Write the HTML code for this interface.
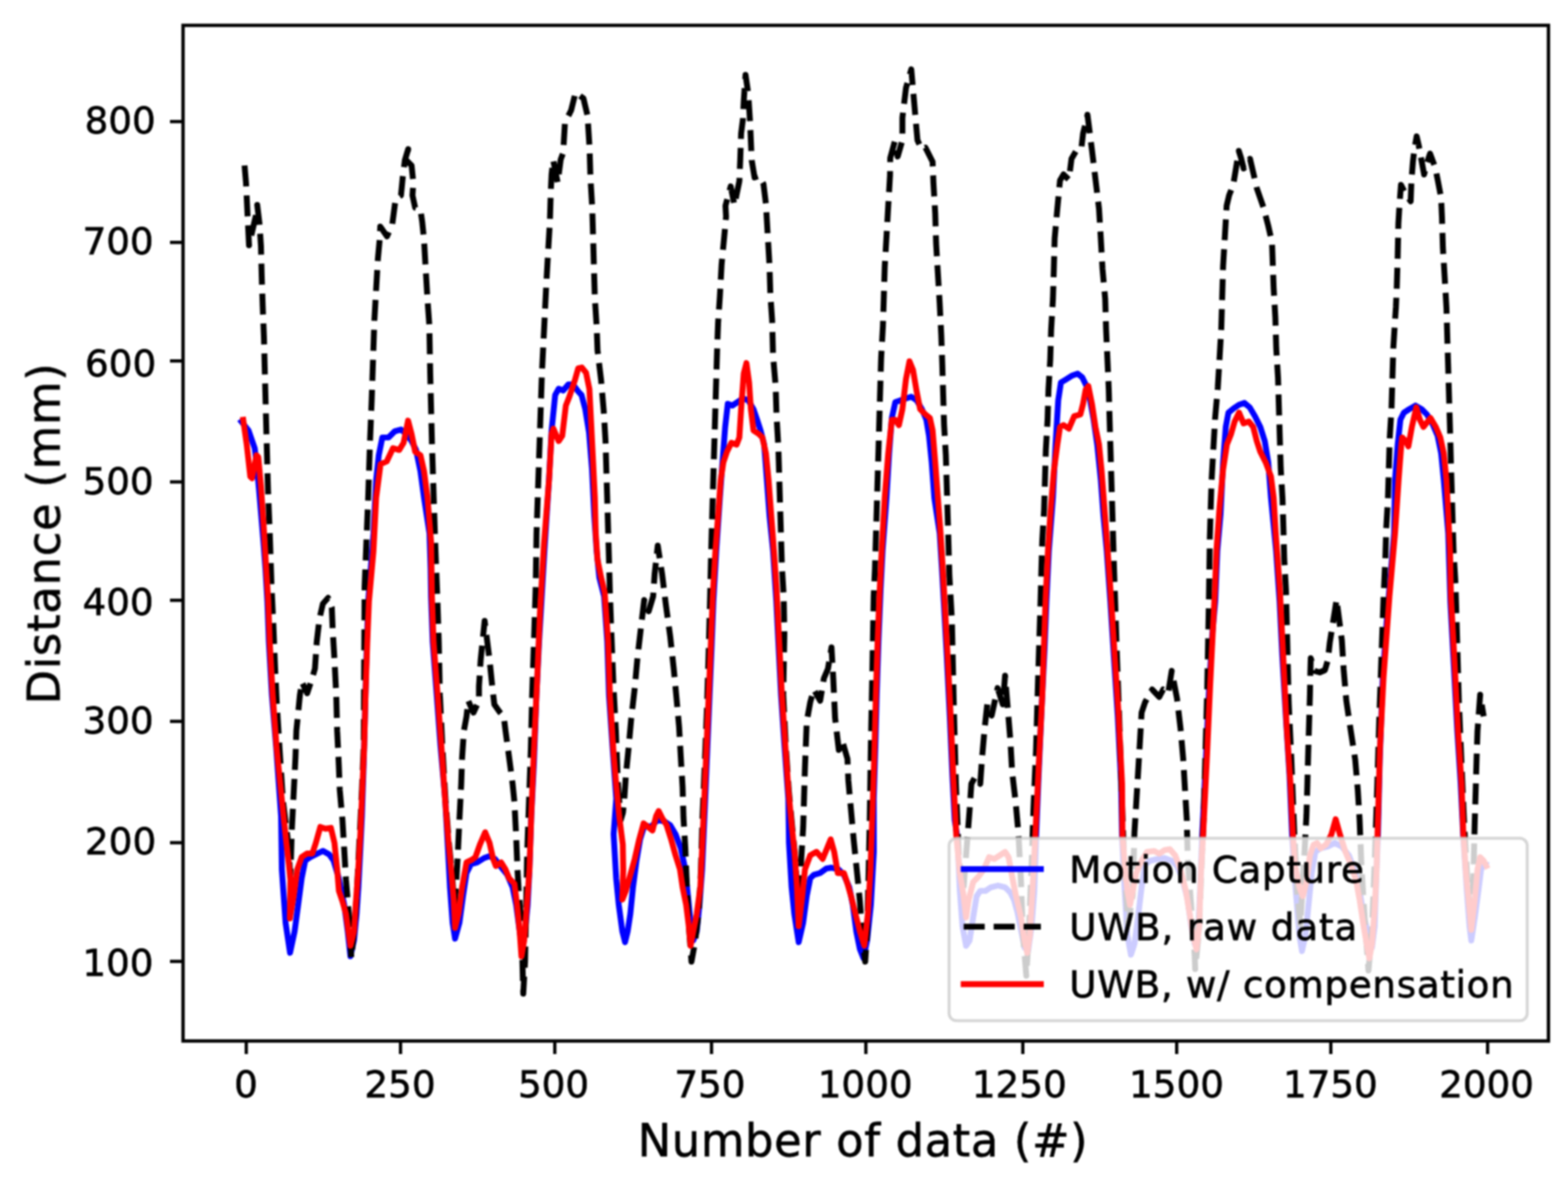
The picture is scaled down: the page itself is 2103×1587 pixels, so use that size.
<!DOCTYPE html>
<html><head><meta charset="utf-8"><title>Distance plot</title>
<style>html,body{margin:0;padding:0;background:#fff;overflow:hidden}svg{display:block}</style>
</head><body>
<svg xmlns="http://www.w3.org/2000/svg" width="2103" height="1587" viewBox="0 0 2103 1587">
<rect x="0" y="0" width="2103" height="1587" fill="#fff"/>
<defs><filter id="soft" color-interpolation-filters="sRGB" filterUnits="userSpaceOnUse" x="0" y="0" width="2103" height="1587"><feGaussianBlur stdDeviation="0.8"/></filter></defs>
<g filter="url(#soft)">
<defs><clipPath id="ax"><rect x="245.5" y="34.0" width="1831.3" height="1362.5"/></clipPath></defs>
<g clip-path="url(#ax)" fill="none" stroke-linejoin="round">
<polyline points="323.8,565.5 333.3,577.4 341.6,601.2 344.0,620.2 347.3,655.9 350.3,691.5 353.3,727.2 356.0,762.9 358.6,807.0 360.6,861.0 364.6,932.0 370.5,1004.0 377.0,1095.1 378.0,1166.4 383.0,1237.8 389.0,1278.2 395.1,1249.6 399.9,1214.0 404.6,1178.3 409.4,1154.5 416.5,1149.8 426.0,1145.0 433.1,1141.5 441.5,1146.2 447.4,1154.5 454.5,1178.3 461.7,1214.0 466.4,1249.6 470.0,1282.9 474.8,1261.5 478.3,1225.9 480.7,1190.2 483.1,1142.7 485.4,1095.1 487.8,1023.8 489.5,960.0 491.5,880.0 493.8,807.0 500.9,715.3 504.5,644.0 508.0,610.7 512.8,586.9 521.1,586.9 529.4,578.6 537.8,576.2 544.9,582.2 552.0,591.7 558.0,603.6 563.9,632.1 568.7,667.8 576.0,715.3 577.5,762.9 578.1,800.0 580.3,861.0 585.7,932.0 590.7,1000.0 597.0,1071.3 601.0,1142.7 603.5,1190.2 607.0,1237.8 610.3,1259.2 616.2,1237.8 621.0,1202.1 625.7,1171.2 631.7,1159.3 640.0,1156.9 649.5,1151.0 656.6,1148.6 663.8,1152.2 670.9,1161.7 680.4,1173.6 687.5,1190.2 692.3,1214.0 697.0,1249.6 700.6,1273.4 704.2,1249.6 707.7,1214.0 710.1,1166.4 712.5,1095.1 716.1,1023.8 719.5,932.0 723.0,861.0 726.2,807.0 730.2,739.1 736.3,644.0 739.8,577.4 744.6,529.9 749.3,521.5 755.3,523.9 762.4,515.6 768.4,515.6 775.5,525.1 780.0,530.0 785.0,549.0 790.0,580.0 794.0,630.0 797.0,691.5 800.2,739.1 803.8,774.7 810.2,800.0 814.5,861.3 816.8,932.7 821.5,1002.0 826.5,1071.3 823.0,1118.9 826.4,1178.3 829.9,1214.0 834.7,1249.6 838.3,1263.9 841.8,1249.6 845.4,1225.9 849.0,1190.2 853.7,1154.5 858.5,1126.0 864.4,1107.0 872.7,1109.4 882.2,1099.9 891.7,1102.2 898.9,1107.0 906.0,1118.9 913.1,1137.9 919.1,1166.4 922.7,1202.1 926.2,1237.8 929.8,1261.5 934.5,1249.6 938.1,1214.0 941.7,1166.4 943.8,1118.9 945.9,1071.3 948.9,1000.0 951.7,932.0 954.7,861.0 956.8,807.0 960.7,739.1 965.5,667.8 969.0,620.2 972.6,572.7 976.1,541.7 982.1,544.1 989.2,539.4 996.4,534.6 1003.5,537.0 1010.6,548.9 1015.4,563.1 1020.1,577.4 1024.9,596.4 1028.5,644.0 1032.0,691.5 1036.8,739.1 1041.2,807.0 1043.9,861.0 1047.5,932.0 1052.1,1000.0 1057.3,1071.3 1058.2,1130.8 1061.7,1190.2 1065.3,1225.9 1071.2,1263.9 1077.2,1237.8 1082.0,1202.1 1086.7,1178.3 1091.5,1173.6 1099.8,1171.2 1108.1,1165.2 1115.2,1164.0 1124.7,1166.4 1131.9,1173.6 1139.0,1190.2 1143.8,1214.0 1148.5,1249.6 1153.3,1273.4 1158.0,1285.3 1163.0,1261.5 1168.0,1214.0 1172.0,1142.7 1171.9,1071.3 1174.1,1000.0 1175.9,932.0 1178.2,861.0 1181.1,790.0 1183.7,739.1 1189.0,667.8 1192.5,608.3 1196.1,560.8 1200.8,539.4 1208.0,537.0 1215.1,534.6 1222.2,532.2 1229.4,537.0 1236.5,548.9 1242.4,563.1 1246.0,584.5 1249.6,620.2 1253.1,667.8 1260.3,715.3 1263.3,762.9 1265.8,807.0 1269.8,880.0 1273.8,960.0 1277.3,1040.0 1280.4,1100.0 1284.1,1123.8 1287.3,1195.1 1290.9,1242.7 1295.7,1268.8 1300.4,1261.7 1305.2,1230.8 1309.9,1202.2 1314.7,1195.1 1321.8,1195.1 1329.0,1190.3 1338.5,1188.0 1348.0,1190.3 1355.1,1197.5 1359.9,1207.0 1364.6,1223.6 1369.4,1247.4 1374.1,1271.2 1378.9,1275.9 1383.6,1242.7 1387.2,1195.1 1389.6,1123.8 1393.0,1040.0 1397.0,950.0 1401.0,870.0 1403.5,807.0 1406.7,739.1 1412.2,667.8 1415.7,596.4 1419.3,537.0 1422.9,513.2 1428.8,509.6 1438.3,503.7 1445.4,501.3 1451.4,506.1 1457.3,518.0 1462.1,537.0 1466.8,563.1 1471.6,596.4 1476.4,644.0 1479.9,691.5 1484.4,739.1 1489.2,807.0 1494.5,890.0 1499.1,960.0 1503.6,1050.0 1504.9,1123.8 1508.5,1195.1 1512.0,1254.5 1516.8,1280.7 1521.5,1266.4 1526.3,1230.8 1531.1,1190.3 1535.8,1159.4 1542.9,1154.7 1552.4,1152.3 1562.0,1151.1 1571.5,1154.7 1578.6,1161.8 1585.7,1178.5 1592.9,1207.0 1597.6,1242.7 1602.4,1266.4 1607.1,1252.2 1609.5,1195.1 1612.2,1123.8 1616.8,1030.0 1621.8,920.0 1626.0,850.0 1629.9,807.0 1632.7,739.1 1637.0,690.0 1640.4,620.2 1644.0,572.7 1647.6,553.6 1654.7,547.7 1661.8,542.9 1669.0,540.6 1676.1,546.5 1683.2,558.4 1690.3,572.7 1696.3,591.7 1701.0,620.2 1704.6,667.8 1711.5,739.1 1716.2,807.0 1719.8,880.0 1724.5,960.0 1729.5,1040.0 1733.1,1123.8 1737.9,1195.1 1742.7,1254.5 1746.2,1275.9 1751.0,1254.5 1755.7,1207.0 1759.3,1171.3 1764.1,1142.8 1771.2,1138.0 1780.7,1135.7 1790.2,1130.9 1799.7,1135.7 1809.2,1147.6 1816.4,1166.6 1823.5,1195.1 1829.4,1230.8 1835.4,1254.5 1840.1,1271.2 1843.7,1242.7 1846.1,1171.3 1848.0,1123.8 1850.5,1020.0 1854.5,910.0 1860.1,830.0 1862.0,807.0 1869.8,715.3 1871.0,644.0 1874.6,596.4 1878.2,563.1 1882.9,553.6 1890.1,548.9 1898.4,544.1 1906.7,548.9 1913.8,556.0 1921.0,567.9 1928.1,584.5 1932.9,608.3 1936.4,644.0 1942.4,715.3 1945.2,807.0 1949.7,890.0 1954.5,980.0 1959.0,1050.0 1962.6,1123.8 1967.3,1195.1 1970.9,1242.7 1973.3,1261.7 1978.0,1230.8 1982.8,1195.1 1986.4,1166.6 1989.9,1159.4 1993.0,1160.0" stroke="#0000ff" stroke-width="7.9" stroke-linecap="square"/>
<polyline points="328.0,222.0 330.0,246.0 332.0,288.0 334.0,329.0 340.0,303.0 343.0,290.0 345.0,275.0 348.0,300.0 350.0,330.0 351.0,370.0 352.3,409.5 354.0,452.0 355.0,492.0 357.1,572.7 359.4,655.9 361.8,715.3 364.2,786.6 366.6,837.6 369.0,897.0 371.3,944.5 374.9,1004.0 379.6,1075.3 385.6,1122.9 389.5,1175.0 391.5,1111.0 393.9,1063.4 396.3,1015.9 397.5,980.2 399.9,956.4 402.2,932.7 405.0,915.0 412.0,930.0 418.0,912.0 422.4,897.0 424.8,861.3 428.4,830.4 433.0,810.0 440.0,802.0 445.0,815.0 446.2,844.7 448.6,885.1 451.0,932.7 452.2,980.2 453.4,1004.8 454.5,1028.5 455.7,1060.0 459.3,1100.0 461.7,1140.0 464.0,1180.0 467.6,1223.0 471.2,1285.0 475.9,1237.8 478.3,1202.1 480.7,1154.5 483.1,1107.0 485.4,1059.4 487.8,1000.0 489.0,787.0 491.4,727.2 493.8,667.8 496.1,596.4 498.5,537.0 500.9,465.7 502.1,430.0 504.5,388.1 506.8,347.7 509.2,321.5 510.0,304.0 519.0,317.0 526.0,302.0 530.6,266.8 537.8,262.1 540.1,238.3 543.0,215.0 547.5,200.0 545.0,215.0 552.0,222.0 554.4,245.5 553.2,262.1 556.8,278.7 563.9,281.1 566.3,297.8 568.7,321.5 571.0,362.0 573.4,402.4 575.8,435.7 577.0,501.3 579.4,596.4 581.7,667.8 584.1,739.1 586.5,800.0 588.5,861.3 590.0,932.7 593.5,1004.0 597.5,1073.0 602.0,1130.0 606.0,1170.0 609.5,1215.0 611.5,1190.0 613.8,1150.0 616.2,1099.1 618.6,1051.5 619.8,1015.9 622.2,980.2 625.7,961.2 628.0,940.0 635.0,956.0 642.4,940.0 642.4,920.8 644.7,885.1 647.1,861.3 650.0,833.0 656.6,885.1 660.2,920.8 663.0,945.0 670.0,955.0 675.6,961.0 678.0,980.2 682.8,1015.9 687.5,1051.5 689.9,1075.3 692.3,1122.9 694.0,1166.0 696.0,1200.0 699.4,1240.0 701.8,1333.0 704.2,1290.0 706.0,1200.0 707.0,1146.0 709.5,1075.0 712.0,1004.0 713.7,932.7 716.1,861.3 718.4,790.0 719.6,715.3 722.0,644.0 724.4,572.7 726.8,501.3 730.3,430.0 732.7,381.0 735.1,338.2 737.5,297.8 738.7,257.3 739.8,233.6 742.0,215.0 748.0,245.0 752.0,214.0 755.3,205.0 757.7,164.6 766.0,148.0 771.9,124.2 782.5,132.0 788.0,155.1 790.7,197.9 791.9,238.3 794.3,278.7 795.5,319.2 796.6,359.6 797.8,400.0 800.2,437.0 801.4,470.0 806.2,510.0 809.7,551.0 812.1,591.0 813.3,632.0 814.5,672.0 815.7,714.0 816.9,755.0 818.0,795.0 820.0,850.0 822.8,920.0 826.0,980.0 828.7,1050.0 832.5,1100.0 835.5,1090.0 837.1,1075.3 839.4,1040.0 843.0,1004.0 846.6,964.0 851.3,923.0 854.9,883.0 859.6,842.0 864.0,805.0 870.0,820.0 876.0,800.0 878.0,770.0 882.2,732.0 888.0,770.0 892.9,810.0 898.9,854.0 903.6,897.0 907.2,935.0 910.8,975.0 913.1,1016.0 915.5,1056.0 916.7,1097.0 919.1,1137.0 920.3,1167.0 923.0,1230.0 927.4,1290.0 932.0,1265.0 937.0,1225.0 940.0,1170.0 942.0,1100.0 945.0,1030.0 948.0,954.0 950.5,873.0 952.5,797.0 953.6,748.0 954.7,708.0 955.9,668.0 957.1,627.0 958.3,587.0 959.5,546.0 960.7,506.0 961.9,466.0 963.1,433.0 965.5,397.6 967.8,354.8 971.4,316.8 973.8,290.6 973.0,276.0 980.0,250.0 985.0,275.0 991.6,243.1 992.8,214.5 994.0,178.9 996.4,159.9 997.5,136.1 999.9,100.4 1003.5,125.0 1005.9,162.0 1008.2,215.0 1012.0,238.0 1018.0,236.0 1024.0,247.0 1027.3,274.0 1029.6,314.0 1032.0,355.0 1033.2,395.0 1035.6,430.0 1036.8,477.0 1040.3,518.0 1041.5,558.0 1043.9,599.0 1045.1,639.0 1046.3,680.0 1047.5,720.0 1048.7,760.0 1051.1,800.0 1052.0,850.0 1050.5,932.0 1054.0,1002.0 1058.0,1061.0 1062.5,1109.0 1066.0,1145.0 1069.0,1190.0 1072.0,1205.0 1074.8,1150.0 1077.2,1110.0 1078.4,1070.0 1079.6,1030.0 1082.0,968.0 1086.7,942.0 1091.5,925.0 1100.0,940.0 1105.0,910.0 1110.5,897.0 1115.2,868.5 1117.6,911.0 1120.0,963.0 1125.0,1006.0 1130.0,995.0 1136.6,1018.0 1137.8,1047.0 1141.4,1087.0 1145.0,1127.0 1148.5,1161.0 1153.3,1209.0 1157.0,1260.0 1160.4,1290.0 1163.0,1250.0 1165.0,1170.0 1166.5,1100.0 1168.0,1000.0 1170.0,900.0 1171.8,800.0 1173.5,763.0 1174.7,722.0 1175.9,682.0 1177.1,641.0 1178.3,601.0 1179.4,561.0 1180.6,520.0 1181.8,480.0 1184.2,437.0 1185.4,398.0 1186.6,358.0 1189.0,317.0 1191.3,276.0 1193.7,235.0 1194.0,212.0 1200.0,190.0 1204.0,210.0 1210.3,188.0 1210.3,158.0 1215.1,118.0 1222.2,93.0 1227.0,148.0 1230.5,188.0 1236.0,200.0 1241.2,198.0 1250.8,217.0 1251.9,245.0 1254.3,286.0 1255.5,326.0 1257.9,367.0 1260.3,407.0 1262.4,449.0 1263.8,489.0 1265.0,530.0 1266.2,570.0 1268.6,611.0 1269.8,651.0 1271.0,691.0 1272.2,732.0 1273.3,772.0 1276.6,830.0 1279.5,956.4 1282.0,1050.0 1286.0,1150.0 1292.0,1195.0 1298.0,1118.1 1300.4,1087.0 1302.8,1051.5 1308.0,1042.0 1314.7,1051.5 1317.1,1017.0 1320.6,977.0 1324.2,944.0 1330.0,960.0 1338.0,923.0 1345.0,945.0 1348.0,906.5 1355.1,993.0 1357.5,1036.0 1362.2,1076.0 1365.8,1116.0 1369.4,1183.0 1371.7,1250.0 1376.5,1309.0 1380.0,1250.0 1384.0,1150.0 1386.0,1087.0 1389.6,1004.0 1392.0,920.0 1395.5,809.0 1396.7,765.0 1397.9,725.0 1400.3,684.0 1401.5,644.0 1402.7,603.0 1405.0,563.0 1406.2,523.0 1408.6,482.0 1409.8,442.0 1412.2,401.0 1413.4,361.0 1414.5,320.0 1418.1,280.0 1421.7,242.0 1426.4,234.0 1433.6,241.0 1437.1,213.0 1443.1,202.7 1450.2,200.3 1452.6,178.9 1457.3,160.0 1458.5,153.9 1464.5,201.0 1469.2,240.0 1474.0,280.0 1476.4,320.0 1478.7,361.0 1482.3,401.0 1483.5,442.0 1485.3,482.0 1487.1,523.0 1488.2,563.0 1489.4,603.0 1490.6,644.0 1491.8,684.0 1493.0,725.0 1494.2,765.0 1495.4,800.0 1498.0,880.0 1501.0,960.0 1504.0,1050.0 1507.5,1150.0 1513.0,1240.0 1519.2,1200.0 1521.5,1117.0 1523.9,1078.0 1526.3,1038.0 1528.7,998.0 1531.1,956.0 1535.8,942.0 1545.3,925.0 1554.8,935.0 1560.0,925.0 1566.7,930.0 1571.5,900.0 1578.6,937.0 1583.4,978.0 1586.9,1018.0 1589.3,1059.0 1591.7,1099.0 1592.9,1150.0 1597.6,1216.0 1602.4,1283.0 1603.0,1300.0 1608.0,1250.0 1612.0,1150.0 1614.3,1100.0 1617.0,1000.0 1619.0,930.0 1621.4,805.0 1622.6,722.0 1623.8,682.0 1625.0,644.0 1627.3,603.0 1629.7,561.0 1633.3,520.0 1635.7,480.0 1638.0,440.0 1640.4,357.0 1642.8,317.0 1645.2,276.0 1648.5,262.0 1654.0,248.0 1658.0,224.0 1661.5,202.5 1664.5,212.0 1668.0,226.0 1672.0,222.0 1676.5,213.0 1682.7,239.6 1685.7,252.7 1694.8,278.9 1701.0,303.0 1706.0,325.0 1708.2,386.0 1710.5,426.0 1711.7,467.0 1714.1,507.0 1715.3,548.0 1716.5,588.0 1717.7,628.0 1720.1,669.0 1721.3,709.0 1722.4,750.0 1724.8,792.0 1728.4,942.0 1732.0,1020.0 1736.0,1120.0 1740.0,1200.0 1744.0,1240.0 1749.8,1140.0 1752.2,1094.0 1753.4,1054.0 1754.5,1012.0 1755.7,972.0 1756.9,931.0 1757.5,900.0 1758.0,883.0 1763.0,900.0 1770.0,902.0 1777.0,899.0 1781.0,885.0 1783.5,862.0 1790.2,820.0 1792.6,804.3 1799.7,859.0 1802.1,898.0 1805.7,940.0 1811.6,980.0 1817.6,1019.0 1821.1,1060.0 1823.5,1100.0 1825.9,1160.0 1830.6,1237.0 1835.4,1302.0 1840.0,1250.0 1844.0,1150.0 1847.3,1050.0 1850.0,960.0 1855.6,802.0 1858.0,750.0 1859.2,709.0 1861.5,669.0 1862.7,628.0 1863.9,588.0 1866.3,548.0 1867.5,507.0 1868.7,467.0 1871.0,430.0 1872.2,411.9 1873.4,384.0 1874.6,343.0 1875.5,300.0 1877.0,275.0 1879.0,248.0 1885.0,260.0 1892.0,270.0 1893.0,243.0 1895.0,217.0 1897.0,200.0 1900.0,183.0 1903.0,196.0 1906.5,215.0 1910.0,234.0 1914.0,218.0 1918.0,206.0 1925.0,225.0 1928.0,240.0 1932.8,265.0 1934.0,292.0 1935.2,332.0 1937.6,372.0 1940.0,413.0 1941.2,456.0 1942.4,496.0 1943.6,537.0 1944.8,577.0 1945.9,618.0 1947.1,658.0 1948.3,699.0 1949.5,739.0 1951.9,779.0 1953.0,813.0 1956.6,940.0 1960.0,1020.0 1964.0,1110.0 1968.0,1180.0 1972.5,1238.0 1976.0,1180.0 1978.0,1100.0 1979.2,1060.0 1980.4,1018.0 1981.6,981.0 1985.2,932.0 1989.9,961.0" stroke="#000" stroke-width="7.9" stroke-dasharray="28.2 12" stroke-linecap="butt"/>
<polyline points="326.2,563.1 330.9,596.4 335.7,639.2 338.0,641.6 344.0,610.7 346.4,613.0 349.9,651.1 353.5,703.4 357.1,762.9 359.8,807.0 361.8,861.3 365.8,932.7 371.0,1003.0 378.8,1081.0 384.0,1130.0 387.5,1160.0 389.5,1180.0 388.8,1232.0 393.9,1202.1 398.7,1166.4 404.6,1149.8 411.7,1145.0 418.9,1145.0 423.6,1130.8 429.6,1109.4 436.7,1111.7 443.8,1110.6 448.6,1130.8 452.2,1166.4 454.5,1195.0 459.3,1209.2 464.0,1225.9 470.0,1268.7 474.8,1249.6 477.1,1214.0 480.5,1166.4 483.3,1118.9 485.4,1071.3 488.5,1000.0 490.2,932.7 492.6,861.3 494.8,807.0 500.9,739.1 504.5,667.8 510.4,622.6 518.7,619.0 527.1,601.2 535.4,603.6 541.3,594.0 547.3,564.3 552.0,582.2 556.8,605.9 563.9,610.7 568.7,632.1 573.4,667.8 578.2,727.2 579.3,800.0 581.5,861.3 587.0,932.7 592.2,1004.0 597.0,1073.0 601.6,1130.8 605.0,1166.4 608.5,1206.8 610.3,1244.9 615.0,1225.9 619.8,1190.2 625.7,1156.9 632.9,1153.4 637.6,1149.8 643.6,1133.1 650.7,1116.5 656.6,1130.8 661.4,1152.2 665.0,1161.7 672.1,1156.9 678.0,1166.4 682.8,1178.3 689.9,1185.5 693.5,1214.0 697.0,1249.6 699.4,1282.9 703.0,1261.5 706.6,1214.0 710.1,1166.4 712.5,1095.1 715.5,1020.0 720.4,912.0 724.2,821.5 729.5,731.0 736.5,642.0 739.8,582.2 742.2,575.0 749.3,591.7 754.1,584.5 758.9,544.1 763.6,532.2 770.8,510.8 775.5,494.2 780.3,493.0 786.0,500.0 790.5,522.0 793.1,572.7 795.5,620.2 797.8,667.8 799.0,715.3 801.4,751.0 806.2,774.7 811.0,795.0 815.7,861.3 818.0,932.7 822.5,1004.0 826.0,1047.6 830.5,1095.1 833.5,1118.9 835.3,1133.1 835.9,1166.4 834.7,1206.8 839.4,1195.0 845.4,1173.6 851.3,1152.2 857.3,1126.0 863.2,1104.6 869.2,1109.4 875.1,1114.1 879.9,1095.1 883.4,1088.0 888.2,1097.5 894.1,1107.0 900.1,1126.0 906.0,1147.4 912.0,1166.4 915.5,1190.2 920.3,1214.0 923.8,1242.5 926.2,1268.7 929.8,1249.6 934.5,1225.9 939.3,1190.2 941.5,1142.7 944.5,1075.0 947.5,1004.0 950.5,932.7 953.5,861.3 955.9,800.0 959.5,739.1 963.1,691.5 966.6,644.0 970.2,620.2 975.0,605.9 980.9,594.0 988.0,596.4 991.6,586.9 994.0,548.9 997.5,501.3 1001.1,487.1 1004.7,513.2 1007.1,548.9 1010.6,577.4 1017.8,582.2 1022.5,586.9 1027.3,608.3 1030.8,644.0 1034.4,691.5 1038.0,739.1 1041.5,790.0 1045.1,861.3 1048.7,932.7 1053.4,1002.0 1057.5,1061.0 1062.0,1109.0 1065.8,1145.0 1068.9,1190.2 1071.2,1242.5 1076.0,1202.1 1079.6,1166.4 1086.7,1147.4 1095.0,1142.7 1103.3,1152.2 1109.3,1137.9 1114.1,1126.0 1118.8,1142.7 1123.6,1171.2 1131.9,1171.2 1136.6,1185.5 1141.4,1202.1 1147.3,1225.9 1153.3,1249.6 1159.2,1268.7 1164.0,1225.9 1167.5,1166.4 1169.9,1095.1 1172.3,1023.8 1174.7,932.7 1177.0,861.3 1179.5,798.0 1182.5,739.1 1186.6,667.8 1191.3,608.3 1196.1,563.1 1200.8,563.1 1205.6,570.3 1210.3,548.9 1215.1,508.5 1219.8,484.7 1224.6,496.6 1229.4,525.1 1234.1,548.9 1241.3,556.0 1247.2,560.8 1250.8,577.4 1254.3,620.2 1257.9,667.8 1261.5,715.3 1264.5,762.9 1267.0,807.0 1271.0,880.0 1275.0,960.0 1278.5,1040.0 1282.6,1120.5 1287.3,1171.3 1292.1,1199.9 1295.7,1230.8 1299.2,1207.0 1305.2,1183.2 1312.3,1176.1 1319.4,1166.6 1326.6,1149.9 1333.7,1152.3 1340.8,1147.6 1348.0,1142.8 1352.7,1149.9 1357.5,1176.1 1362.2,1199.9 1369.4,1230.8 1374.1,1261.7 1377.7,1278.3 1381.3,1254.5 1384.8,1195.1 1388.4,1123.8 1393.1,1027.8 1397.9,932.7 1400.0,870.0 1402.5,800.0 1405.5,739.1 1408.6,691.5 1413.4,632.1 1418.1,596.4 1421.7,572.7 1426.4,570.3 1433.6,575.0 1440.7,558.4 1449.0,556.0 1452.6,541.7 1456.1,522.7 1459.7,518.0 1464.5,541.7 1469.2,572.7 1474.0,596.4 1477.5,632.1 1481.1,679.6 1484.7,727.2 1488.2,774.7 1490.0,800.0 1495.4,885.1 1500.1,956.4 1504.9,1051.5 1505.5,1122.0 1508.5,1159.4 1512.0,1195.1 1515.6,1214.1 1519.2,1195.1 1523.9,1171.3 1531.1,1154.7 1538.2,1142.8 1547.7,1141.6 1554.8,1145.2 1562.0,1140.4 1569.1,1139.2 1576.2,1147.6 1583.4,1166.6 1590.5,1195.1 1595.2,1223.6 1600.0,1254.5 1604.7,1273.6 1608.3,1242.7 1610.7,1171.3 1613.5,1122.0 1619.0,1010.0 1623.0,920.0 1627.0,840.0 1629.5,790.0 1631.5,739.0 1635.7,680.0 1640.4,630.0 1645.5,596.4 1651.1,582.2 1655.9,565.5 1661.8,553.6 1667.8,567.9 1674.9,565.5 1680.8,572.7 1685.6,591.7 1690.3,605.9 1697.5,620.2 1704.6,639.2 1708.2,667.8 1711.0,715.3 1714.5,762.9 1716.5,790.0 1721.3,885.1 1726.0,980.2 1730.8,1051.5 1734.0,1120.0 1736.7,1159.4 1742.7,1190.3 1747.4,1202.2 1752.2,1183.2 1756.9,1147.6 1761.7,1133.3 1766.4,1130.9 1771.2,1138.0 1778.3,1133.3 1785.5,1120.0 1791.4,1099.1 1797.3,1120.0 1804.5,1142.8 1811.6,1159.4 1818.7,1180.8 1823.5,1207.0 1828.2,1237.9 1833.0,1266.4 1836.6,1285.5 1840.1,1266.4 1843.7,1218.9 1846.1,1171.3 1847.5,1120.0 1850.8,1004.0 1855.6,908.9 1863.5,800.0 1871.0,715.3 1875.8,644.0 1879.4,596.4 1880.6,586.9 1885.5,591.7 1888.9,598.8 1893.6,572.7 1899.6,546.5 1904.3,563.1 1909.1,572.7 1918.6,560.8 1925.7,572.7 1931.7,586.9 1936.4,608.3 1940.0,644.0 1942.4,691.5 1944.8,739.1 1946.0,800.0 1950.7,885.1 1955.5,980.2 1960.2,1051.5 1962.6,1118.1 1966.1,1171.3 1969.7,1207.0 1973.3,1247.4 1978.0,1207.0 1981.6,1166.6 1985.2,1149.9 1989.9,1154.7 1993.5,1161.8" stroke="#ff0000" stroke-width="7.9" stroke-linecap="square"/>
</g>
<rect x="1272.9" y="1124.6" width="775.4000000000001" height="244.70000000000005" rx="10" ry="10" fill="#fff" fill-opacity="0.8" stroke="#ccc" stroke-opacity="0.8" stroke-width="4"/>
<line x1="1292.5" y1="1165.9" x2="1396.0" y2="1165.9" stroke="#0000ff" stroke-width="7.9" stroke-linecap="square"/>
<line x1="1292.5" y1="1243.1" x2="1396.0" y2="1243.1" stroke="#000" stroke-width="7.9" stroke-dasharray="28.2 12"/>
<line x1="1292.5" y1="1320.3" x2="1396.0" y2="1320.3" stroke="#ff0000" stroke-width="7.9" stroke-linecap="square"/>
<text x="1434" y="1183.7" font-size="50" textLength="395.2" lengthAdjust="spacing" font-family="DejaVu Sans, Liberation Sans, sans-serif" fill="#000" stroke="#000" stroke-width="0.8">Motion Capture</text>
<text x="1434" y="1260.9" font-size="50" textLength="386.4" lengthAdjust="spacing" font-family="DejaVu Sans, Liberation Sans, sans-serif" fill="#000" stroke="#000" stroke-width="0.8">UWB, raw data</text>
<text x="1434" y="1338.1" font-size="50" textLength="596.1" lengthAdjust="spacing" font-family="DejaVu Sans, Liberation Sans, sans-serif" fill="#000" stroke="#000" stroke-width="0.8">UWB, w/ compensation</text>
<rect x="245.5" y="34.0" width="1831.3000000000002" height="1362.5" fill="none" stroke="#000" stroke-width="4.5" stroke-linejoin="miter"/>
<line x1="330.3" y1="1396.5" x2="330.3" y2="1414.0" stroke="#000" stroke-width="4.4"/>
<line x1="537.2" y1="1396.5" x2="537.2" y2="1414.0" stroke="#000" stroke-width="4.4"/>
<line x1="744.1" y1="1396.5" x2="744.1" y2="1414.0" stroke="#000" stroke-width="4.4"/>
<line x1="954.3" y1="1396.5" x2="954.3" y2="1414.0" stroke="#000" stroke-width="4.4"/>
<line x1="1161.3" y1="1396.5" x2="1161.3" y2="1414.0" stroke="#000" stroke-width="4.4"/>
<line x1="1371.8" y1="1396.5" x2="1371.8" y2="1414.0" stroke="#000" stroke-width="4.4"/>
<line x1="1578.2" y1="1396.5" x2="1578.2" y2="1414.0" stroke="#000" stroke-width="4.4"/>
<line x1="1784.9" y1="1396.5" x2="1784.9" y2="1414.0" stroke="#000" stroke-width="4.4"/>
<line x1="1995.2" y1="1396.5" x2="1995.2" y2="1414.0" stroke="#000" stroke-width="4.4"/>
<line x1="228.0" y1="163.1" x2="245.5" y2="163.1" stroke="#000" stroke-width="4.4"/>
<line x1="228.0" y1="325.2" x2="245.5" y2="325.2" stroke="#000" stroke-width="4.4"/>
<line x1="228.0" y1="484.2" x2="245.5" y2="484.2" stroke="#000" stroke-width="4.4"/>
<line x1="228.0" y1="646.5" x2="245.5" y2="646.5" stroke="#000" stroke-width="4.4"/>
<line x1="228.0" y1="805.3" x2="245.5" y2="805.3" stroke="#000" stroke-width="4.4"/>
<line x1="228.0" y1="967.7" x2="245.5" y2="967.7" stroke="#000" stroke-width="4.4"/>
<line x1="228.0" y1="1130.5" x2="245.5" y2="1130.5" stroke="#000" stroke-width="4.4"/>
<line x1="228.0" y1="1289.7" x2="245.5" y2="1289.7" stroke="#000" stroke-width="4.4"/>
<text x="330.0" y="1471.5" font-size="50" text-anchor="middle" font-family="DejaVu Sans, Liberation Sans, sans-serif" fill="#000" stroke="#000" stroke-width="0.8">0</text>
<text x="536.5" y="1471.5" font-size="50" text-anchor="middle" font-family="DejaVu Sans, Liberation Sans, sans-serif" fill="#000" stroke="#000" stroke-width="0.8">250</text>
<text x="742.4" y="1471.5" font-size="50" text-anchor="middle" font-family="DejaVu Sans, Liberation Sans, sans-serif" fill="#000" stroke="#000" stroke-width="0.8">500</text>
<text x="952.1" y="1471.5" font-size="50" text-anchor="middle" font-family="DejaVu Sans, Liberation Sans, sans-serif" fill="#000" stroke="#000" stroke-width="0.8">750</text>
<text x="1160.4" y="1471.5" font-size="50" text-anchor="middle" font-family="DejaVu Sans, Liberation Sans, sans-serif" fill="#000" stroke="#000" stroke-width="0.8">1000</text>
<text x="1367.1" y="1471.5" font-size="50" text-anchor="middle" font-family="DejaVu Sans, Liberation Sans, sans-serif" fill="#000" stroke="#000" stroke-width="0.8">1250</text>
<text x="1577.9" y="1471.5" font-size="50" text-anchor="middle" font-family="DejaVu Sans, Liberation Sans, sans-serif" fill="#000" stroke="#000" stroke-width="0.8">1500</text>
<text x="1784.3" y="1471.5" font-size="50" text-anchor="middle" font-family="DejaVu Sans, Liberation Sans, sans-serif" fill="#000" stroke="#000" stroke-width="0.8">1750</text>
<text x="1993.8" y="1471.5" font-size="50" text-anchor="middle" font-family="DejaVu Sans, Liberation Sans, sans-serif" fill="#000" stroke="#000" stroke-width="0.8">2000</text>
<text x="208.9" y="179.1" font-size="50" text-anchor="end" font-family="DejaVu Sans, Liberation Sans, sans-serif" fill="#000" stroke="#000" stroke-width="0.8">800</text>
<text x="206.1" y="341.2" font-size="50" text-anchor="end" font-family="DejaVu Sans, Liberation Sans, sans-serif" fill="#000" stroke="#000" stroke-width="0.8">700</text>
<text x="209.5" y="504.6" font-size="50" text-anchor="end" font-family="DejaVu Sans, Liberation Sans, sans-serif" fill="#000" stroke="#000" stroke-width="0.8">600</text>
<text x="206.1" y="663.3" font-size="50" text-anchor="end" font-family="DejaVu Sans, Liberation Sans, sans-serif" fill="#000" stroke="#000" stroke-width="0.8">500</text>
<text x="206.1" y="825.4" font-size="50" text-anchor="end" font-family="DejaVu Sans, Liberation Sans, sans-serif" fill="#000" stroke="#000" stroke-width="0.8">400</text>
<text x="206.1" y="984.3" font-size="50" text-anchor="end" font-family="DejaVu Sans, Liberation Sans, sans-serif" fill="#000" stroke="#000" stroke-width="0.8">300</text>
<text x="209.5" y="1146.4" font-size="50" text-anchor="end" font-family="DejaVu Sans, Liberation Sans, sans-serif" fill="#000" stroke="#000" stroke-width="0.8">200</text>
<text x="205.9" y="1309.1" font-size="50" text-anchor="end" font-family="DejaVu Sans, Liberation Sans, sans-serif" fill="#000" stroke="#000" stroke-width="0.8">100</text>
<text x="1157" y="1551" font-size="60" text-anchor="middle" textLength="603.5" lengthAdjust="spacing" font-family="DejaVu Sans, Liberation Sans, sans-serif" fill="#000" stroke="#000" stroke-width="0.8">Number of data (#)</text>
<text transform="translate(79.9,716.2) rotate(-90)" x="0" y="0" font-size="60" text-anchor="middle" textLength="457.7" lengthAdjust="spacing" font-family="DejaVu Sans, Liberation Sans, sans-serif" fill="#000" stroke="#000" stroke-width="0.8">Distance (mm)</text>
</g>
</svg>
</body></html>
